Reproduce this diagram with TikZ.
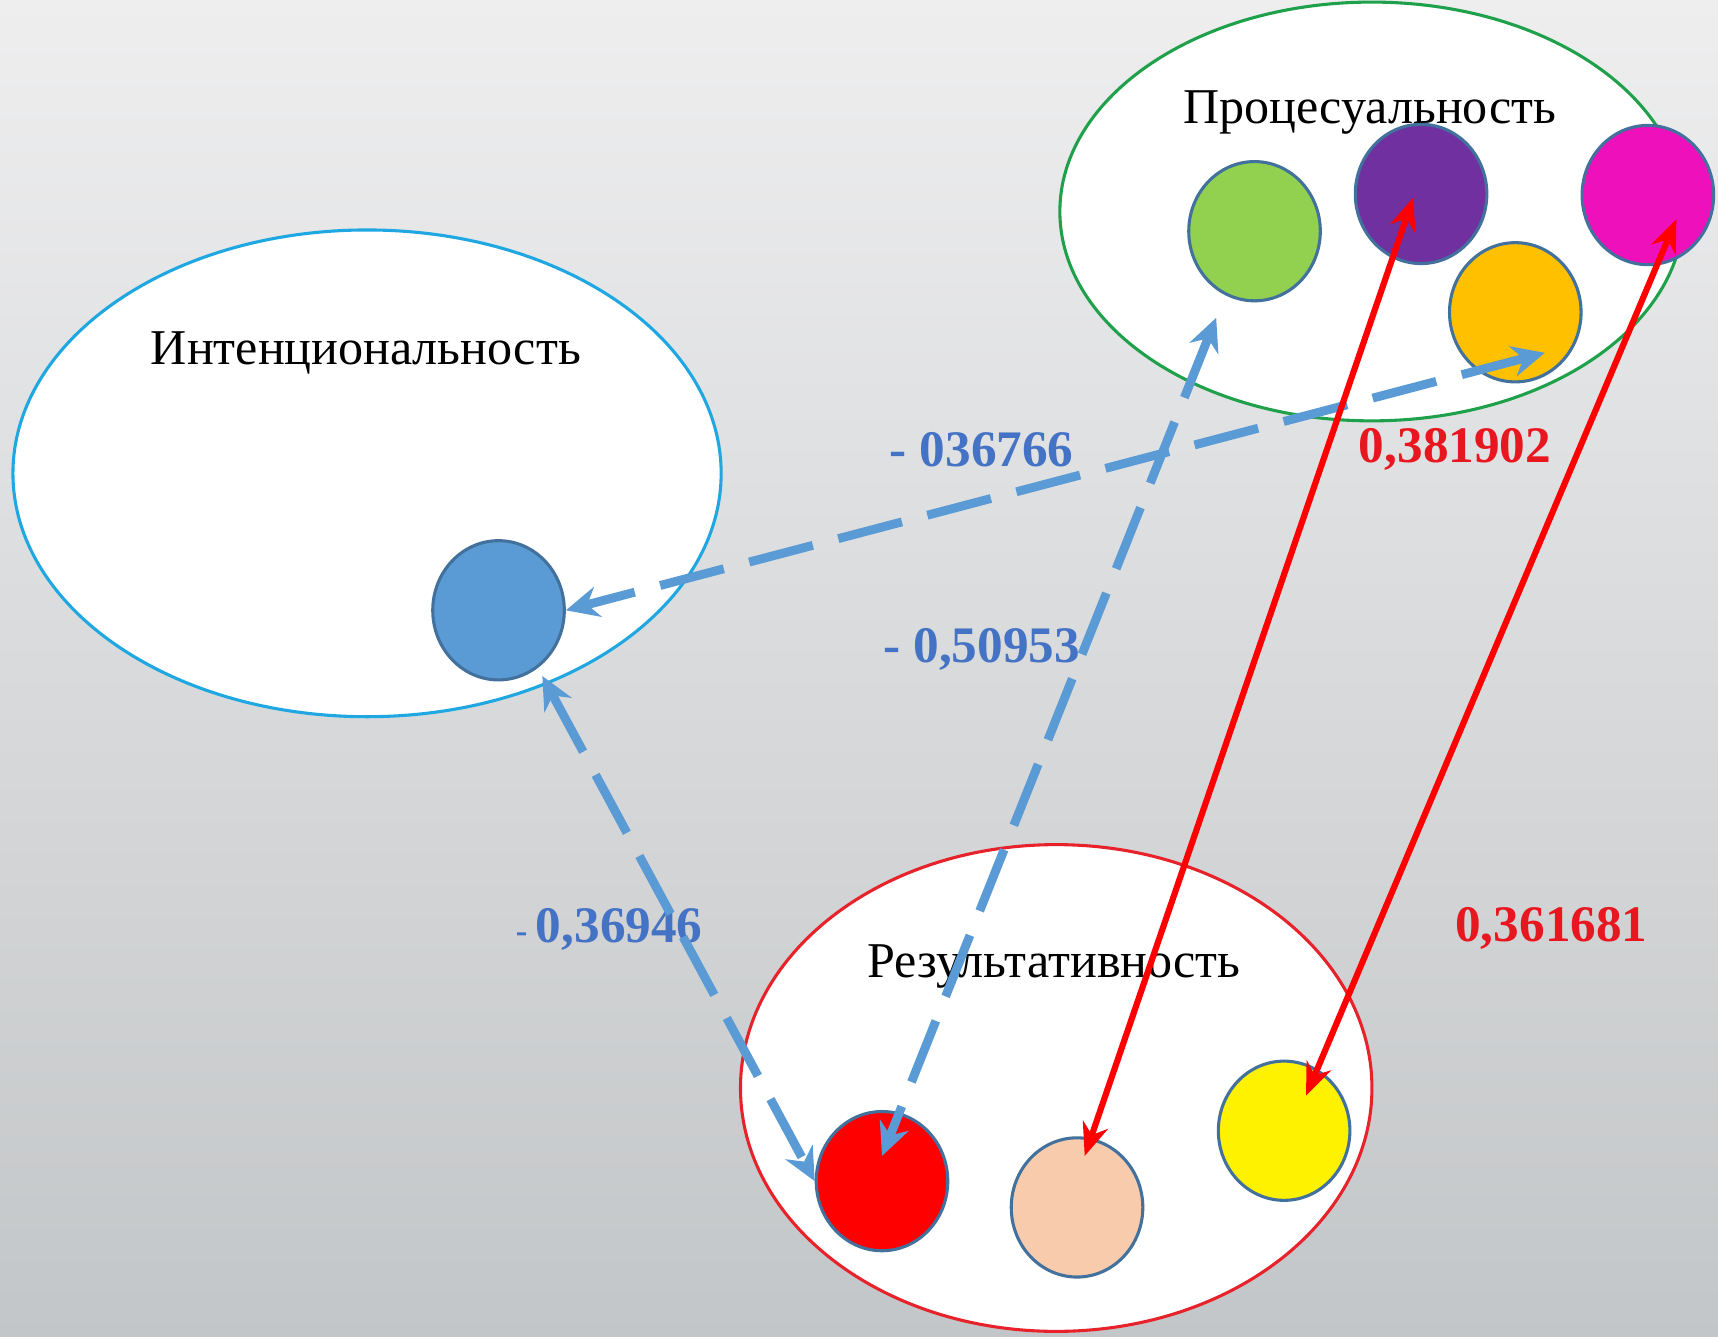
\documentclass[tikz,border=0pt]{standalone}
\usepackage{fontspec}
\setmainfont{Liberation Serif}
\usetikzlibrary{shapes.geometric,arrows.meta}
\definecolor{bgtop}{HTML}{EEEEEF}
\definecolor{bgmid}{HTML}{E2E3E4}
\definecolor{bgbot}{HTML}{C3C6C8}
\definecolor{intentline}{HTML}{1EA7E1}
\definecolor{processline}{HTML}{1FA04A}
\definecolor{resultline}{HTML}{E8222A}
\definecolor{dotline}{HTML}{41719C}
\definecolor{linkblue}{HTML}{5B9BD5}
\definecolor{valblue}{HTML}{4472C4}
\definecolor{valred}{HTML}{E8161E}
\begin{document}
\begin{tikzpicture}[x=0.01cm, y=-0.01cm,
    group/.style={ellipse, draw, fill=white, line width=0.8pt, inner sep=0pt},
    dot/.style={ellipse, draw=dotline, line width=0.8pt, inner sep=0pt,
      minimum width=1.2cm, minimum height=1.27cm},
    title/.style={font=\fontsize{13}{13}\selectfont},
    val/.style={font=\fontsize{13.3}{13.3}\selectfont\bfseries},
    bluelink/.style={draw=linkblue, line width=2.3pt, dash pattern=on 0.6cm off 0.24cm,
      {Stealth[length=0.3cm, width=0.28cm]}-{Stealth[length=0.3cm, width=0.28cm]}},
    redlink/.style={draw=red, line width=1.6pt,
      {Stealth[length=0.3cm, width=0.24cm]}-{Stealth[length=0.3cm, width=0.24cm]}}]
  \useasboundingbox (0,0) rectangle (1568,1220);
  \clip (0,0) rectangle (1568,1220);
  \fill[top color=bgtop, middle color=bgmid, bottom color=bgbot] (0,0) rectangle (1568,1220);
  %
  % the three groups
  \node[group, draw=intentline, minimum width=6.46cm, minimum height=4.44cm] (intent) at (335,432) {};
  \node[group, draw=processline, minimum width=5.69cm, minimum height=3.82cm] (process) at (1252,193) {};
  \node[group, draw=resultline, minimum width=5.76cm, minimum height=4.44cm] (result) at (964,993) {};
  \node[title] (intentT) at (334,322) {Интенциональность};
  \node[title] (processT) at (1250,103) {Процесуальность};
  \node[title] (resultT) at (962,882) {Результативность};
  %
  % circles
  \node[dot, fill={rgb,255:red,91;green,155;blue,213}] (blueDot) at (455,557) {};
  \node[dot, fill={rgb,255:red,146;green,208;blue,80}] (greenDot) at (1145,211) {};
  \node[dot, fill={rgb,255:red,112;green,48;blue,160}] (purpleDot) at (1297,177) {};
  \node[dot, fill={rgb,255:red,238;green,17;blue,187}] (magentaDot) at (1504,178) {};
  \node[dot, fill={rgb,255:red,255;green,192;blue,0}] (orangeDot) at (1383,285) {};
  \node[dot, fill=red] (redDot) at (805,1078) {};
  \node[dot, fill={rgb,255:red,248;green,203;blue,173}] (peachDot) at (983,1102) {};
  \node[dot, fill=yellow] (yellowDot) at (1172,1032) {};
  %
  % values
  \node[val, text=valblue] (valA) at (896,410) {- 036766};
  \node[val, text=valblue] (valB) at (896,593) {- 0,50953};
  \node[val, text=valblue] (valC) at (556,848) {{\fontsize{9}{9}\selectfont -}\,0,36946};
  \node[val, text=valred] (valD) at (1328,410) {0,381902};
  \node[val, text=valred] (valE) at (1416,847) {0,361681};
  %
  % arrow ends
  \coordinate (orangeEnd) at ([shift={(27,37)}]orangeDot.center);
  \coordinate (greenEnd) at ([shift={(-35,79)}]greenDot.center);
  \coordinate (redEnd) at ([shift={(0,-23)}]redDot.center);
  \coordinate (blueEnd) at ([shift={(40,60)}]blueDot.center);
  \coordinate (purpleEnd) at ([shift={(-7,3)}]purpleDot.center);
  \coordinate (peachEnd) at ([shift={(7,-47)}]peachDot.center);
  \coordinate (magentaEnd) at ([shift={(26,22)}]magentaDot.center);
  \coordinate (yellowEnd) at ([shift={(20,-32)}]yellowDot.center);
  %
  \draw[bluelink] (orangeEnd) -- (blueDot.east);
  \draw[bluelink] (greenEnd) -- (redEnd);
  \draw[bluelink] (blueEnd) -- (redDot.west);
  \draw[redlink] (purpleEnd) -- (peachEnd);
  \draw[redlink] (magentaEnd) -- (yellowEnd);
\end{tikzpicture}
\end{document}
